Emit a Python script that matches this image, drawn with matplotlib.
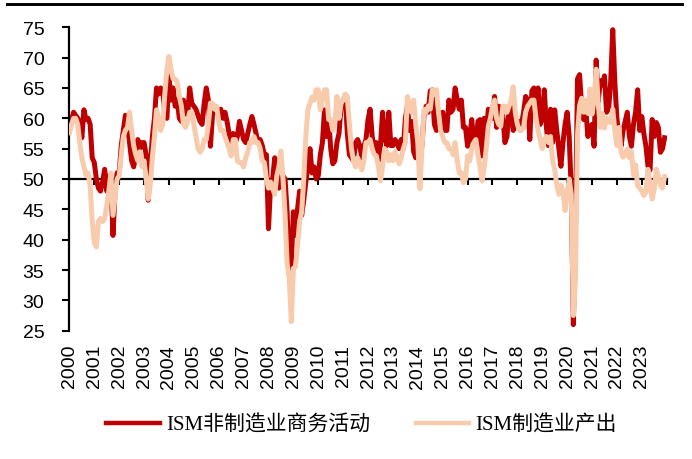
import matplotlib
matplotlib.use("Agg")
import matplotlib.pyplot as plt
from matplotlib.lines import Line2D
import numpy as np

years = list(range(2000, 2024))
series_names = ["ISM非制造业商务活动", "ISM制造业产出"]

# ISM non-manufacturing business activity, monthly 2000-2023
services = [
    58, 59.5, 61, 60.5, 60, 59.5, 56.8, 61.4, 59.8, 60, 59, 53.5,        # 2000
    52.7, 50, 48.5, 48, 49.5, 51.6, 48, 50.5, 50, 40.7, 48, 51,          # 2001
    51, 55.5, 58, 60.5, 59, 56, 53, 52, 54, 56.5, 55, 56,                # 2002
    56, 54, 46.5, 52, 57, 60, 65, 64, 65, 64.5, 61, 60,                  # 2003
    67, 63, 65, 62, 63, 60, 59.5, 63, 61.5, 60.5, 65, 62.5,              # 2004
    62, 61.5, 60.5, 59.5, 59, 62.5, 65, 63, 55.4, 60.5, 62, 61,          # 2005
    61, 61.5, 60, 61, 59.5, 57.5, 55.5, 57.5, 56, 57, 59.5, 58,          # 2006
    56.5, 56, 57.5, 59, 60.3, 59, 57.5, 56, 56.5, 55.5, 54, 54,          # 2007
    41.8, 49, 50, 53.5, 51.5, 48.5, 49.5, 50.5, 50, 44.5, 34.2, 36,      # 2008
    44.6, 40.7, 45, 48, 44, 46.5, 49.5, 52, 55, 51, 52, 50,              # 2009
    50.5, 54, 56, 61.4, 57, 60, 55, 52.5, 53, 56, 57.5, 62,              # 2010
    63, 63.5, 57.6, 54, 53.5, 53, 56, 56.5, 55.5, 53.5, 55.5, 56.5,      # 2011
    59.8, 61.5, 57, 55, 56, 53, 55.5, 61, 57, 55.5, 61, 55.5,            # 2012
    55.5, 56.5, 56, 55, 56.5, 55, 60, 62, 58, 59.5, 54.5, 53.5,          # 2013
    56, 54, 55.5, 60.5, 62, 61, 64.5, 64.7, 59, 58, 61, 60,              # 2014
    61, 58, 58, 63, 61, 61.5, 65, 63, 61.5, 63, 58.5, 58.5,              # 2015
    55.4, 57, 59.8, 56, 55.5, 59.5, 59.8, 53.8, 60, 57.5, 61.5, 61,      # 2016
    60, 63.6, 58.5, 62, 60, 60.5, 56, 57, 61.4, 62, 58, 59,              # 2017
    58.7, 59.5, 59, 61, 63.6, 63, 56.5, 64.5, 65, 62.5, 65, 59,          # 2018
    60, 64.7, 58.5, 55.5, 61.5, 56, 61.4, 58, 55, 52.1, 56, 59,          # 2019
    61, 57, 48, 26, 41.5, 66.5, 67.2, 62, 59.8, 61.5, 57, 58.5,          # 2020
    59, 55.4, 69.6, 62.7, 66.2, 65.5, 67, 61, 61.5, 66, 74.6, 66,        # 2021
    60, 57, 55.4, 58, 59.5, 61, 57, 55.4, 59, 61, 64.7, 58,              # 2022
    60.3, 57.5, 55.4, 52.1, 51.5, 59.8, 57, 59.3, 58.5, 54.4, 55, 56.8,  # 2023
]

# ISM manufacturing production, monthly 2000-2023
production = [
    57.6, 59, 60, 60, 59, 56, 53.5, 52, 50.6, 51, 48.9, 43,              # 2000
    39.5, 38.8, 43, 43.5, 43, 43.5, 45.6, 48, 51, 44, 47, 50,            # 2001
    50.5, 54, 57, 58, 58.5, 61, 58, 55.5, 54, 53, 54.5, 52,              # 2002
    53, 50, 46.7, 49, 53.5, 57, 61.4, 60, 58, 59, 64, 68,                # 2003
    70.2, 68, 66.5, 66.5, 66, 63.6, 62, 59, 58.5, 59.5, 61, 61,          # 2004
    59, 57, 55, 54.4, 55, 56.5, 56.5, 59, 62.5, 62.5, 61.5, 62,          # 2005
    59.5, 58, 58, 57, 56, 55, 53.8, 56.5, 56.5, 53, 52.7, 52.7,          # 2006
    52, 53.5, 54.5, 56, 56, 57, 56, 56, 55, 53, 52.7, 50,                # 2007
    48.5, 49.5, 48.4, 47.5, 50.5, 52, 54.6, 50, 44, 36, 33.7, 26.5,      # 2008
    35.3, 35.5, 39, 43, 44.6, 50, 57, 61.5, 62.5, 63.5, 63, 64.7,        # 2009
    64.7, 61.4, 63, 64.7, 64.7, 59.8, 59.8, 58, 59.5, 63.6, 60, 62.5,    # 2010
    63, 64, 63.6, 59, 55, 53, 52, 53.5, 52.5, 51.5, 53, 56,              # 2011
    56, 56.5, 55, 54, 53.8, 52, 49.7, 52, 55, 54.5, 53, 54,              # 2012
    53, 54.5, 53.5, 52.5, 53.5, 55, 56, 63.6, 62, 61, 63, 59,            # 2013
    56, 48.4, 55, 61.5, 61, 62, 61.5, 64.7, 64, 64.7, 61, 58,            # 2014
    57, 56, 56, 55, 55, 54, 56, 53, 51, 51, 49.4, 50,                    # 2015
    53.8, 53, 55, 56, 56.5, 54, 52, 49.7, 52, 55, 58.7, 60,              # 2016
    62, 63, 60, 59, 58.7, 62, 62, 61, 62, 63, 65.2, 61,                  # 2017
    59, 58, 58, 58.5, 61, 62, 62.5, 63, 63, 60, 58, 56.5,                # 2018
    55, 56.5, 57, 56, 57, 53, 51.6, 49, 47.5, 49, 48, 44.8,              # 2019
    47.7, 50, 47.5, 27.5, 33.2, 57.3, 62.1, 63.3, 61, 63, 60.8, 64.8,    # 2020
    60.7, 63.2, 68.1, 62.5, 58.5, 60.8, 58.4, 60, 59.4, 59.3, 61.5, 58,  # 2021
    55.5, 58.5, 54.5, 53.6, 54.2, 54.9, 53.5, 54.5, 50.6, 52.3, 48.9, 48.5,  # 2022
    48, 47.3, 47.8, 51.6, 48.9, 46.7, 48.3, 51.6, 50.5, 49, 48.5, 50.4,  # 2023
]

y_ticks = list(range(25, 80, 5))

# monthly positions in decimal years
x = np.array([yr + m / 12 for yr in years for m in range(12)])

fig = plt.figure(figsize=(6.92, 4.6), dpi=100)
ax = fig.add_axes([0.1003, 0.2789, 0.8631, 0.6596])

ax.plot(x, services, color="#C00000", lw=3.6, solid_joinstyle="round",
        zorder=2, label=series_names[0])
ax.plot(x, production, color="#F8CBAD", lw=3.6, solid_joinstyle="round",
        zorder=3, label=series_names[1])

ax.set_xlim(2000, 2024)
ax.set_ylim(25, 75)

for s in ["top", "right"]:
    ax.spines[s].set_visible(False)
ax.spines["bottom"].set_position(("data", 50))
ax.spines["bottom"].set_linewidth(1.6)
ax.spines["left"].set_linewidth(1.6)
ax.spines["bottom"].set_zorder(1)

ax.set_xticks(list(range(2000, 2025)))
ax.tick_params(axis="x", direction="out", length=4, width=1.5,
               labelbottom=False)
ax.set_yticks(y_ticks)
ax.tick_params(axis="y", direction="out", length=5, width=1.5, pad=13,
               labelsize=14)
for lab in ax.get_yticklabels():
    lab.set_family("Liberation Sans")

sec = ax.secondary_xaxis(0)
sec.set_xticks(years)
sec.set_xticklabels([str(y) for y in years], rotation=90, fontsize=14,
                    family="Liberation Sans")
sec.tick_params(length=0, pad=9.5)
sec.spines["bottom"].set_visible(False)

# header rule across the top
fig.add_artist(Line2D([7 / 692, 682 / 692], [1 - 4.7 / 460] * 2,
                      color="black", lw=2.1))

leg = fig.legend(loc="center", bbox_to_anchor=(0.5224, 0.074), ncol=2,
                 frameon=False, handlelength=2.55, handletextpad=0.3,
                 columnspacing=2.2, borderpad=0,
                 prop={"family": ["Liberation Serif", "Noto Sans CJK SC"],
                       "size": 15})
for h in leg.get_lines():
    h.set_linewidth(3.2)

fig.savefig("out.png", dpi=100)
